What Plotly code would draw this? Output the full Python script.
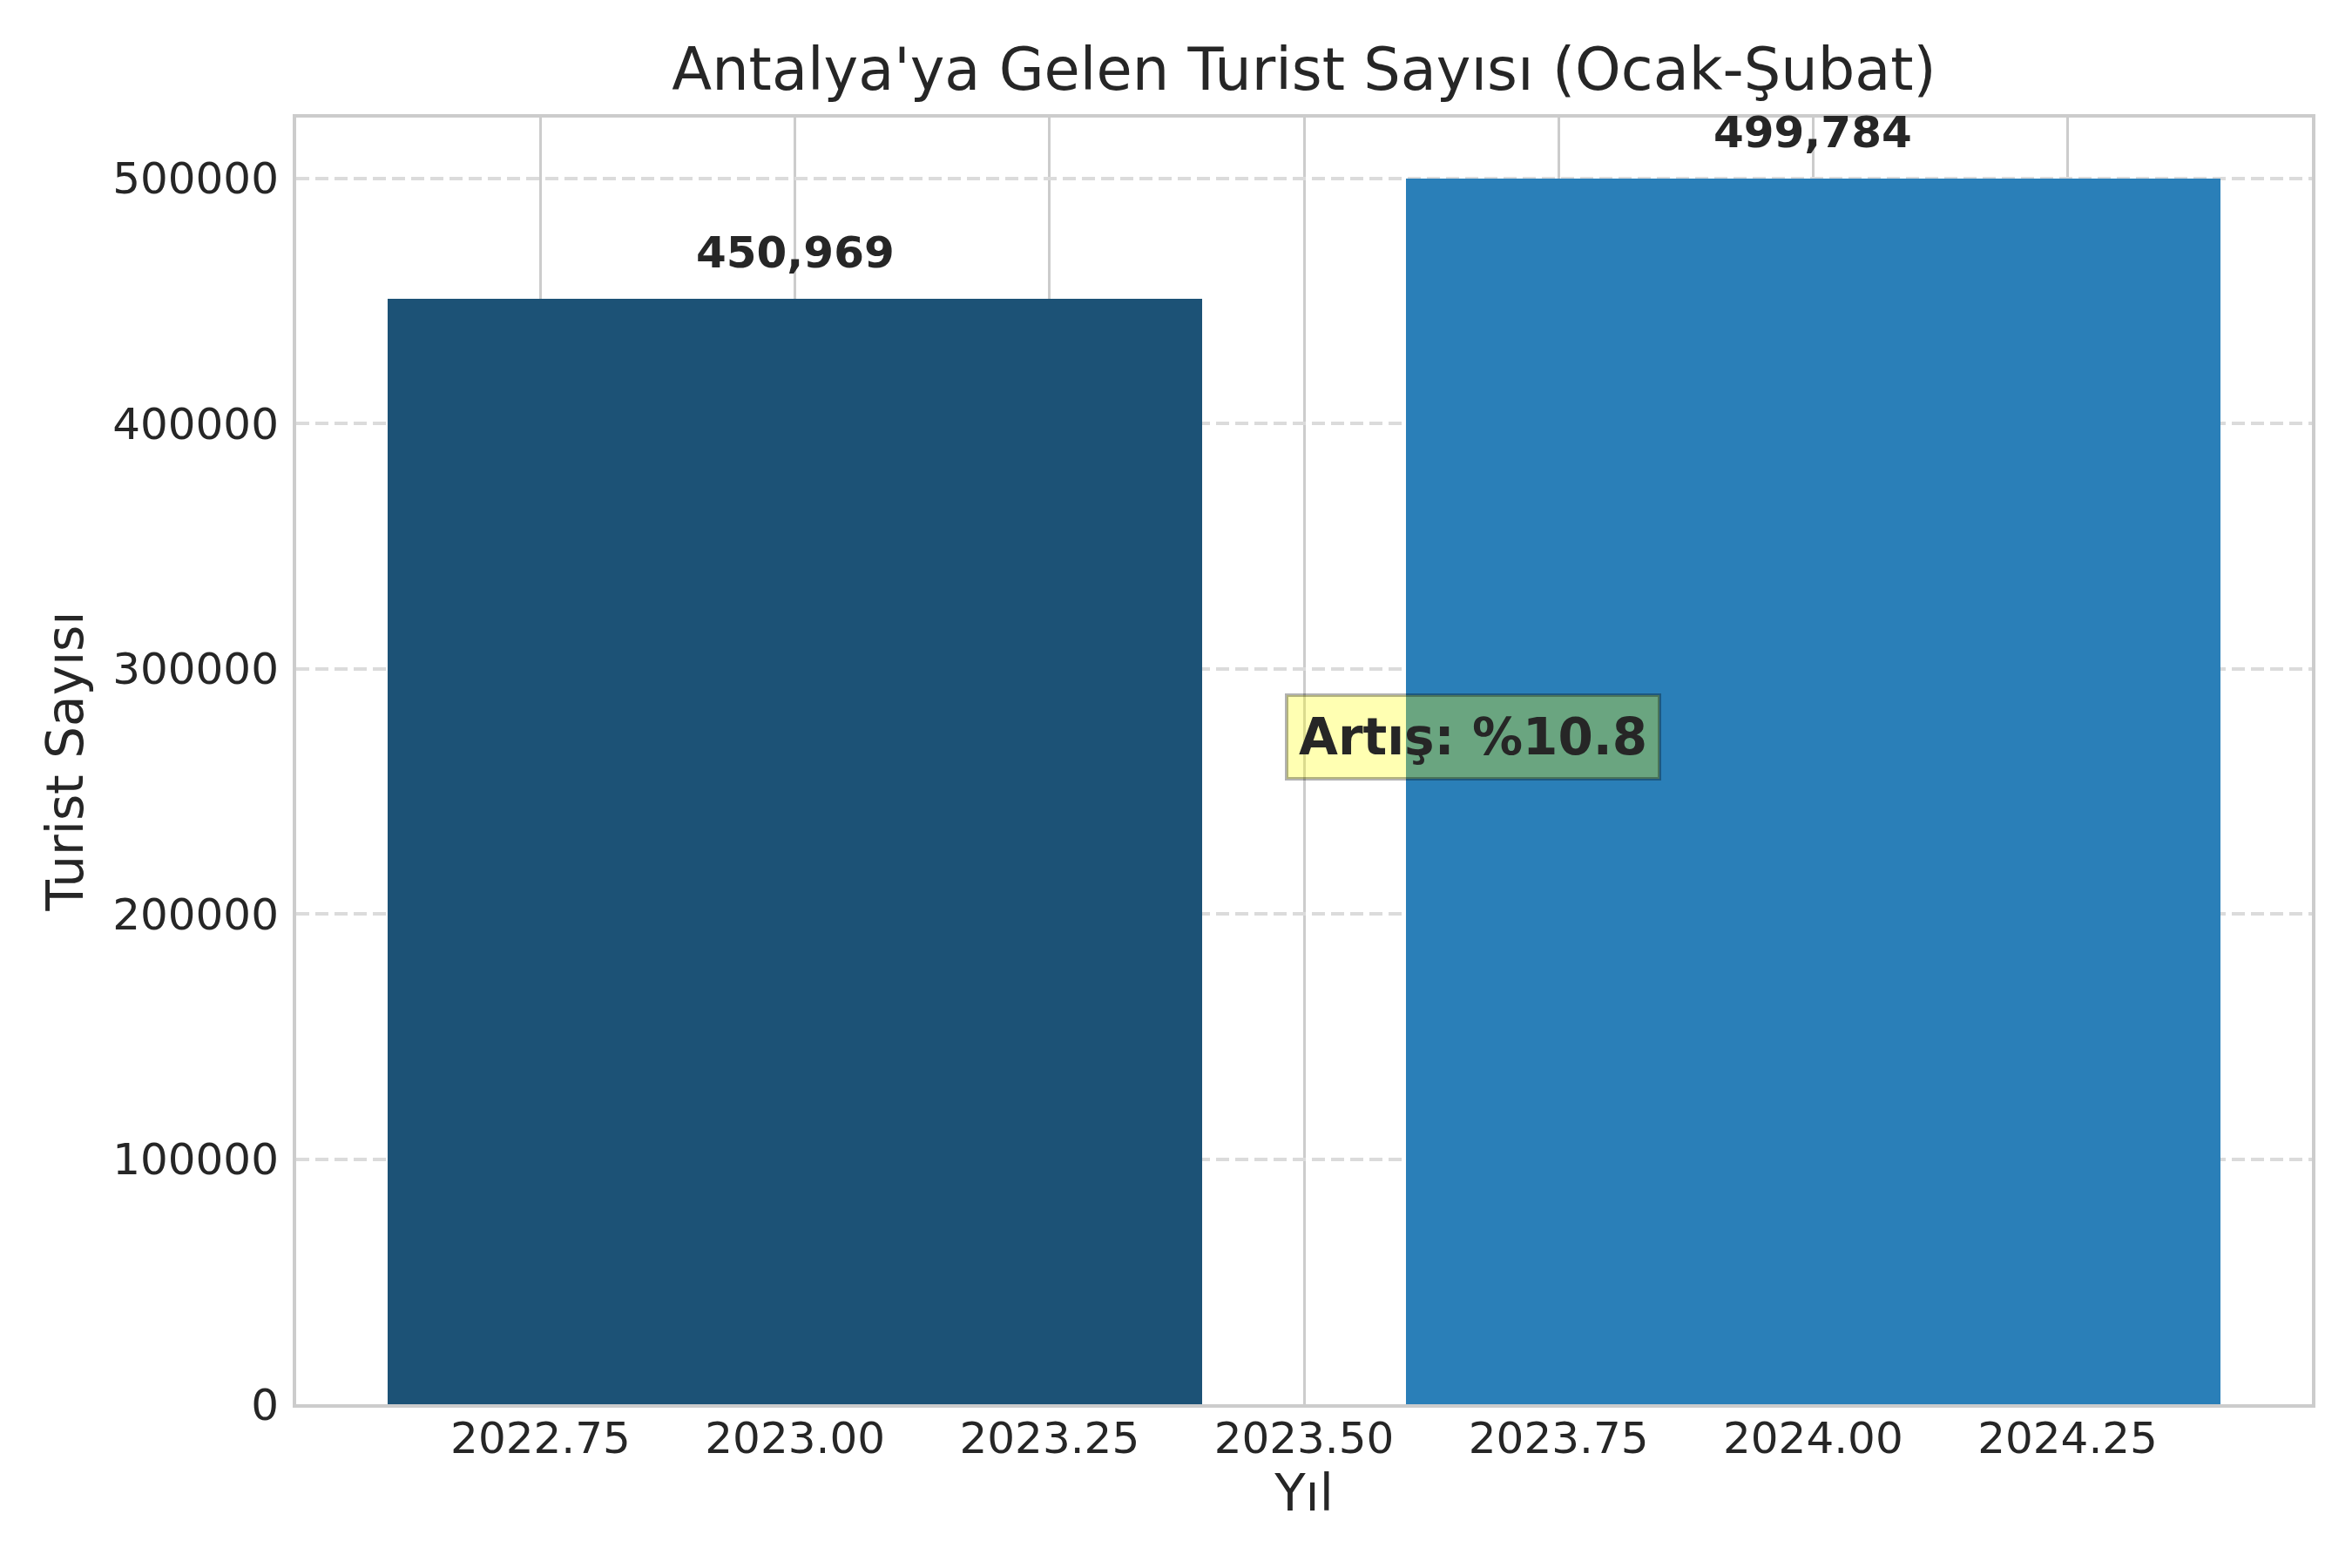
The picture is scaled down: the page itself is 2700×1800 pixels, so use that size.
import plotly.graph_objects as go

# Antalya'ya gelen turist sayısı, Ocak-Şubat dönemi
years = [2023, 2024]
tourists = [450969, 499784]
bar_colors = ['#1c5276', '#2a7fb8']
x_ticks = [2022.75, 2023.00, 2023.25, 2023.50, 2023.75, 2024.00, 2024.25]
y_ticks = [0, 100000, 200000, 300000, 400000, 500000]

increase = (tourists[1] - tourists[0]) / tourists[0] * 100

text_color = '#262626'
font_family = 'DejaVu Sans'

fig = go.Figure()
fig.add_trace(go.Bar(
    x=years,
    y=tourists,
    width=0.8,
    marker=dict(color=bar_colors, line=dict(width=0)),
    hoverinfo='skip'))

annotations = []
# Değer etiketleri
for yr, val in zip(years, tourists):
    annotations.append(dict(
        x=yr, y=val, xref='x', yref='y',
        text=f'<b>{val:,}</b>',
        showarrow=False,
        xanchor='center', yanchor='bottom',
        yshift=22,
        font=dict(family=font_family, size=50, color=text_color)))

# Artış kutusu
annotations.append(dict(
    x=2023.5, y=272000, xref='x', yref='y',
    text=f'<b>Artış: %{increase:.1f}</b>',
    showarrow=False,
    xanchor='left', yanchor='middle',
    xshift=-22,
    bgcolor='rgba(255,255,0,0.3)',
    bordercolor='rgba(0,0,0,0.3)',
    borderwidth=4,
    borderpad=12,
    font=dict(family=font_family, size=58, color=text_color)))

fig.update_layout(
    width=2700,
    height=1800,
    margin=dict(l=332, r=54, t=127, b=196, pad=0),
    paper_bgcolor='white',
    plot_bgcolor='white',
    showlegend=False,
    font=dict(family=font_family, color=text_color),
    title=dict(
        text="Antalya'ya Gelen Turist Sayısı (Ocak-Şubat)",
        x=(332 + 2646) / 2 / 2700, xanchor='center',
        y=1 - 72 / 1800, yanchor='middle', yref='container',
        font=dict(family=font_family, size=67, color=text_color)),
    annotations=annotations,
    bargap=0)

fig.update_xaxes(
    range=[2022.51, 2024.49],
    tickvals=x_ticks,
    ticktext=[f'{t:.2f}' for t in x_ticks],
    tickfont=dict(family=font_family, size=50, color=text_color),
    ticks='',
    ticklabelstandoff=-8,
    showgrid=True, gridcolor='#cccccc', gridwidth=3,
    showline=True, linecolor='#cccccc', linewidth=4, mirror=True,
    zeroline=False,
    title=dict(text='Yıl', standoff=10,
               font=dict(family=font_family, size=58, color=text_color)))

fig.update_yaxes(
    range=[0, max(tourists) * 1.05],
    tickvals=y_ticks,
    ticktext=[str(t) for t in y_ticks],
    tickfont=dict(family=font_family, size=50, color=text_color),
    ticks='',
    ticklabelstandoff=6,
    showgrid=True, gridcolor='#dbdbdb', gridwidth=4, griddash='15px,7px',
    showline=True, linecolor='#cccccc', linewidth=4, mirror=True,
    zeroline=False,
    title=dict(text='Turist Sayısı', standoff=16,
               font=dict(family=font_family, size=58, color=text_color)))

fig.write_html("out.html")
